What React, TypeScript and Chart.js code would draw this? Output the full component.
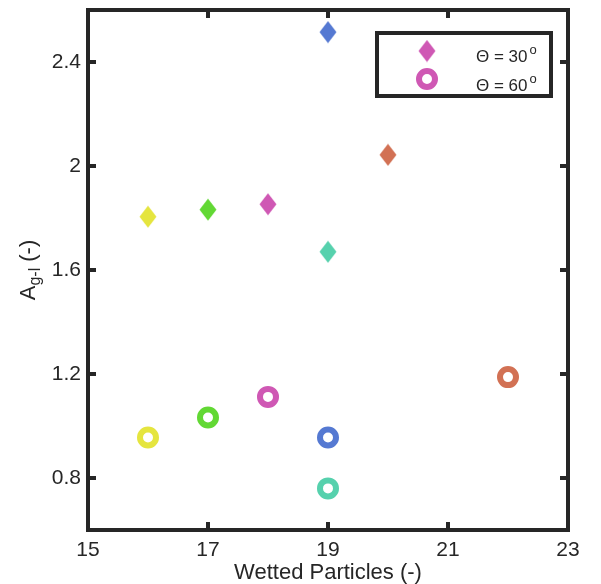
import React, { useEffect, useRef } from "react";
import { Chart, registerables } from "chart.js";

Chart.register(...registerables);

// ---- data ----
const particles30 = [16, 17, 18, 19, 19, 20];
const agl30 = [1.805, 1.832, 1.853, 2.515, 1.67, 2.043];
const particles60 = [16, 17, 18, 19, 19, 22];
const agl60 = [0.956, 1.033, 1.112, 0.956, 0.76, 1.188];
const pointColors = ["#e5e53f", "#62d834", "#cf58b4", "#5579d2", "#56d1ad", "#d27154"];
const seriesLabels = ["30", "60"];
const legendColor = "#cf58b4";
const xTickValues = [15, 17, 19, 21, 23];
const xTickLabels = ["15", "17", "19", "21", "23"];
const yTickValues = [0.8, 1.2, 1.6, 2.0, 2.4];
const yTickLabels = ["0.8", "1.2", "1.6", "2", "2.4"];
const xTitle = "Wetted Particles (-)";
const yTitleMain = "A";
const yTitleSub = "g-l";
const yTitleTail = " (-)";

const FONT = "'Liberation Sans', Arial, Helvetica, sans-serif";
const INK = "#262626";

function makeDiamond(color: string): HTMLCanvasElement {
  const c = document.createElement("canvas");
  const w = 18;
  const h = 23;
  c.width = w;
  c.height = h;
  const g = c.getContext("2d")!;
  g.fillStyle = color;
  g.beginPath();
  g.moveTo(w / 2, 0.5);
  g.lineTo(w - 0.5, h / 2);
  g.lineTo(w / 2, h - 0.5);
  g.lineTo(0.5, h / 2);
  g.closePath();
  g.fill();
  return c;
}

function zeroPad(s: any) {
  s.paddingTop = 0;
  s.paddingBottom = 0;
  s.paddingLeft = 0;
  s.paddingRight = 0;
}

const framePlugin = {
  id: "framePlugin",
  afterDraw(chart: any) {
    const ctx = chart.ctx as CanvasRenderingContext2D;
    const { left, right, top, bottom } = chart.chartArea;
    const xs = chart.scales.x;
    const ys = chart.scales.y;
    ctx.save();
    ctx.strokeStyle = INK;
    ctx.lineWidth = 4;
    ctx.lineCap = "square";
    ctx.strokeRect(left, top, right - left, bottom - top);
    const tl = 8;
    ctx.lineCap = "butt";
    ctx.beginPath();
    xTickValues.forEach((v) => {
      const px = xs.getPixelForValue(v);
      ctx.moveTo(px, bottom);
      ctx.lineTo(px, bottom - tl);
      ctx.moveTo(px, top);
      ctx.lineTo(px, top + tl);
    });
    yTickValues.forEach((v) => {
      const py = ys.getPixelForValue(v);
      ctx.moveTo(left, py);
      ctx.lineTo(left + tl, py);
      ctx.moveTo(right, py);
      ctx.lineTo(right - tl, py);
    });
    ctx.stroke();

    // y title
    ctx.fillStyle = INK;
    ctx.textBaseline = "alphabetic";
    const mainFont = `22px ${FONT}`;
    const subFont = `16px ${FONT}`;
    ctx.font = mainFont;
    const wA = ctx.measureText(yTitleMain).width;
    const wT = ctx.measureText(yTitleTail).width;
    ctx.font = subFont;
    const wS = ctx.measureText(yTitleSub).width;
    const total = wA + wS + wT;
    const cy = (top + bottom) / 2;
    ctx.translate(35, cy);
    ctx.rotate(-Math.PI / 2);
    let x0 = -total / 2;
    ctx.font = mainFont;
    ctx.textAlign = "left";
    ctx.fillText(yTitleMain, x0, 0);
    x0 += wA;
    ctx.font = subFont;
    ctx.fillText(yTitleSub, x0, 5);
    x0 += wS;
    ctx.font = mainFont;
    ctx.fillText(yTitleTail, x0, 0);
    ctx.restore();

    // x title
    ctx.save();
    ctx.fillStyle = INK;
    ctx.font = `22px ${FONT}`;
    ctx.textAlign = "center";
    ctx.textBaseline = "alphabetic";
    ctx.fillText(xTitle, (left + right) / 2, 579);
    ctx.restore();

    // legend
    ctx.save();
    ctx.fillStyle = "#ffffff";
    ctx.fillRect(377, 33, 174, 63);
    ctx.strokeStyle = INK;
    ctx.lineWidth = 4;
    ctx.strokeRect(377, 33, 174, 63);
    const dia = makeDiamond(legendColor);
    ctx.drawImage(dia, 427 - dia.width / 2, 51 - dia.height / 2);
    ctx.beginPath();
    ctx.arc(427, 79, 8, 0, Math.PI * 2);
    ctx.fillStyle = "#ffffff";
    ctx.fill();
    ctx.lineWidth = 6;
    ctx.strokeStyle = legendColor;
    ctx.stroke();
    ctx.fillStyle = INK;
    ctx.textAlign = "left";
    ctx.textBaseline = "alphabetic";
    const baselines = [62, 91];
    seriesLabels.forEach((lab, i) => {
      ctx.font = `17px ${FONT}`;
      const s = `\u0398 = ${lab}`;
      ctx.fillText(s, 476, baselines[i]);
      const w = ctx.measureText(s).width;
      ctx.font = `13px ${FONT}`;
      ctx.fillText("o", 476 + w + 2, baselines[i] - 8);
    });
    ctx.restore();
  },
};

export default function App() {
  const ref = useRef<HTMLCanvasElement | null>(null);
  useEffect(() => {
    document.body.style.margin = "0";
    const canvas = ref.current!;
    const diamonds = pointColors.map((c) => makeDiamond(c));
    const chart = new Chart(canvas, {
      type: "scatter",
      data: {
        datasets: [
          {
            label: "30",
            data: particles30.map((x, i) => ({ x, y: agl30[i] })),
            pointStyle: diamonds as any,
            pointRadius: 9,
            backgroundColor: pointColors,
            borderColor: pointColors,
          },
          {
            label: "60",
            data: particles60.map((x, i) => ({ x, y: agl60[i] })),
            pointStyle: "circle",
            pointRadius: 8,
            borderWidth: 6,
            backgroundColor: "#ffffff",
            borderColor: pointColors,
          },
        ],
      },
      options: {
        responsive: false,
        animation: false,
        devicePixelRatio: 1,
        clip: false as any,
        layout: { autoPadding: false, padding: { left: 0, top: 10, right: 33, bottom: 0 } },
        plugins: { legend: { display: false }, tooltip: { enabled: false } },
        scales: {
          x: {
            type: "linear",
            min: 15,
            max: 23,
            afterBuildTicks: (s: any) => {
              s.ticks = xTickValues.map((v) => ({ value: v }));
            },
            afterFit: (s: any) => {
              s.height = 54;
              zeroPad(s);
            },
            ticks: {
              callback: (v: any) => xTickLabels[xTickValues.indexOf(Number(v))],
              font: { family: FONT, size: 21 },
              color: INK,
              padding: 8,
              maxRotation: 0,
            },
            grid: { display: false, drawTicks: false },
            border: { display: false },
          },
          y: {
            type: "linear",
            min: 0.6,
            max: 2.6,
            afterBuildTicks: (s: any) => {
              s.ticks = yTickValues.map((v) => ({ value: v }));
            },
            afterFit: (s: any) => {
              s.width = 88;
              zeroPad(s);
            },
            ticks: {
              callback: (v: any) => yTickLabels[yTickValues.indexOf(Number(v))],
              font: { family: FONT, size: 21 },
              color: INK,
              padding: 7,
            },
            grid: { display: false, drawTicks: false },
            border: { display: false },
          },
        },
      },
      plugins: [framePlugin],
    });
    return () => chart.destroy();
  }, []);
  return (
    <canvas
      ref={ref}
      width={601}
      height={584}
      style={{ display: "block", width: 601, height: 584 }}
    />
  );
}
